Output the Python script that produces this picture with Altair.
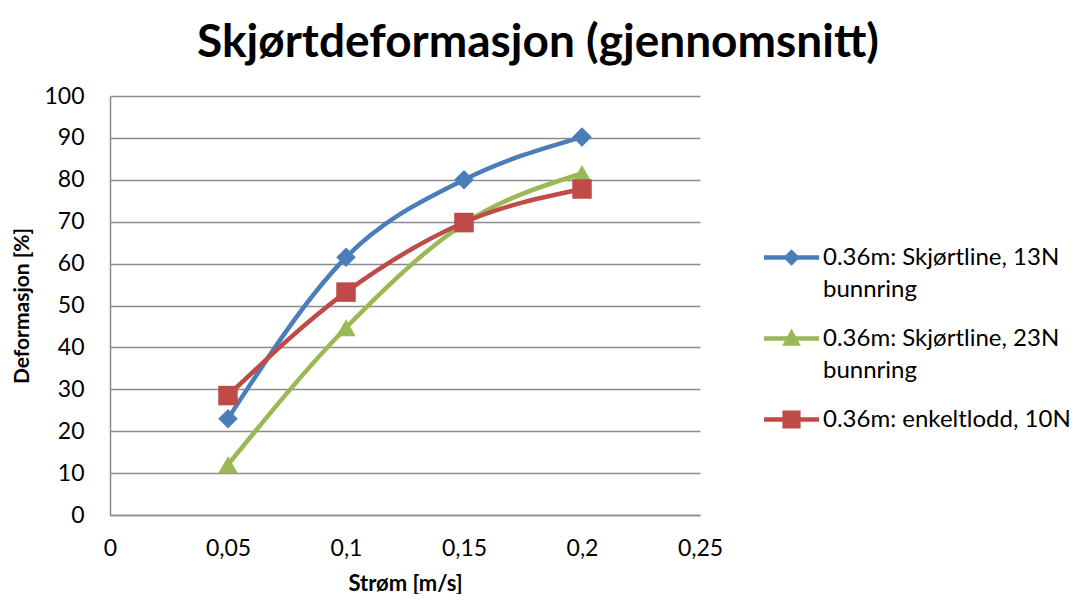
import altair as alt
import pandas as pd

# ---- data ----
stroem = [0.05, 0.1, 0.15, 0.2]
serie_navn = [
    "0.36m: Skjørtline, 13N|bunnring",
    "0.36m: Skjørtline, 23N|bunnring",
    "0.36m: enkeltlodd, 10N",
]
blaa_13N = [23.0, 61.5, 80.0, 90.2]
groenn_23N = [12.0, 44.7, 69.5, 81.5]
roed_10N = [28.5, 53.2, 69.8, 77.8]

farger = ["#4A7EBB", "#98B954", "#BE4B48"]
markorer = ["diamond", "triangle-up", "square"]
x_ticks = [0, 0.05, 0.1, 0.15, 0.2, 0.25]
y_ticks = list(range(0, 101, 10))

rows = []
for navn, verdier in zip(serie_navn, [blaa_13N, groenn_23N, roed_10N]):
    for xv, yv in zip(stroem, verdier):
        rows.append({"serie": navn, "strom": xv, "def": yv})
df = pd.DataFrame(rows)


def f(v):
    return f"{v:.3f}"


LINE_H = 32
SYM = 55  # legend symbol width in px
SHIFT = 0.0


# legend symbols: line + marker as custom paths (unit = sqrt(size)/2)
def leg_path(marker, shift):
    t = 0.08
    s = -shift
    line = f"M-1,{f(s-t)}L1,{f(s-t)}L1,{f(s+t)}L-1,{f(s+t)}Z"
    if marker == "diamond":
        m = 0.30
        mk = f"M0,{f(s-m)}L{f(m)},{f(s)}L0,{f(s+m)}L{f(-m)},{f(s)}Z"
    elif marker == "triangle-up":
        w = 0.34
        mk = f"M0,{f(s-0.36)}L{f(w)},{f(s+0.26)}L{f(-w)},{f(s+0.26)}Z"
    else:
        m = 0.33
        mk = f"M{f(-m)},{f(s-m)}L{f(m)},{f(s-m)}L{f(m)},{f(s+m)}L{f(-m)},{f(s+m)}Z"
    return line + mk


leg_paths = [leg_path(mk, SHIFT) for mk in markorer]

FONT = "Lato"

x_enc = alt.X(
    "strom:Q",
    title="Strøm [m/s]",
    scale=alt.Scale(domain=[0, 0.25], nice=False),
    axis=alt.Axis(
        values=x_ticks,
        labelExpr="replace(format(datum.value, '.2~f'), '.', ',')",
        grid=False,
        ticks=False,
        labelFlush=False,
        labelPadding=22,
        titlePadding=13,
        titleFontSize=22,
    ),
)
y_enc = alt.Y(
    "def:Q",
    title="Deformasjon [%]",
    scale=alt.Scale(domain=[0, 100], nice=False),
    axis=alt.Axis(values=y_ticks, ticks=False, labelPadding=26, titlePadding=11, titleFontSize=21),
)

color_scale = alt.Scale(domain=serie_navn, range=farger)

legend_props = dict(
    orient="none",
    legendX=654,
    legendY=134,
    labelExpr="indexof(datum.label, '|') >= 0 ? split(datum.label, '|') : [datum.label, '']",
    labelFont=FONT,
    labelFontSize=24,
    labelColor="black",
    labelLimit=500,
    labelOffset=4,
    labelBaseline="middle",
    symbolSize=SYM * SYM,
    symbolStrokeWidth=0,
    symbolOpacity=1,
    rowPadding=9,
    padding=0,
    columns=1,
)

line_layers = []
point_layers = []
for i, (navn, farge, mk) in enumerate(zip(serie_navn, farger, markorer)):
    sub = alt.Chart(df).transform_filter(alt.datum.serie == navn)
    line_layers.append(
        sub.mark_line(interpolate="monotone", strokeWidth=4.5, color=farge).encode(
            x=x_enc if i == 0 else alt.X("strom:Q"),
            y=y_enc if i == 0 else alt.Y("def:Q"),
        )
    )
    point_layers.append(
        sub.mark_point(shape=mk, filled=True, opacity=1, size=380, color=farge).encode(
            x="strom:Q", y="def:Q"
        )
    )

legend_layer = (
    alt.Chart(df)
    .mark_point(filled=True, opacity=0, size=SYM * SYM)
    .encode(
        x="strom:Q",
        y="def:Q",
        color=alt.Color("serie:N", scale=color_scale, title=None, legend=alt.Legend(**legend_props)),
        shape=alt.Shape(
            "serie:N",
            scale=alt.Scale(domain=serie_navn, range=leg_paths),
            title=None,
            legend=alt.Legend(**legend_props),
        ),
    )
)

chart = (
    alt.layer(*line_layers, *point_layers, legend_layer)
    .properties(
        width=590,
        height=419,
        padding={"left": 102, "top": 88, "right": 373, "bottom": 79},
        autosize=alt.AutoSizeParams(type="none"),
        title=alt.Title(
            "Skjørtdeformasjon (gjennomsnitt)",
            font=FONT,
            fontSize=46,
            fontWeight="bold",
            color="black",
            anchor="middle",
            dx=133,
            offset=18,
        ),
    )
    .configure(style={"guide-label": {"lineHeight": LINE_H}})
    .configure_view(stroke=None)
    .configure_axis(
        domainColor="#8C8C8C",
        domainWidth=1.5,
        gridColor="#8C8C8C",
        gridWidth=1.3,
        labelFont=FONT,
        labelFontSize=23,
        labelColor="black",
        titleFont=FONT,
        titleFontWeight="bold",
        titleColor="black",
    )
)

chart.save("out.html", embed_options={"renderer": "svg", "actions": False})
